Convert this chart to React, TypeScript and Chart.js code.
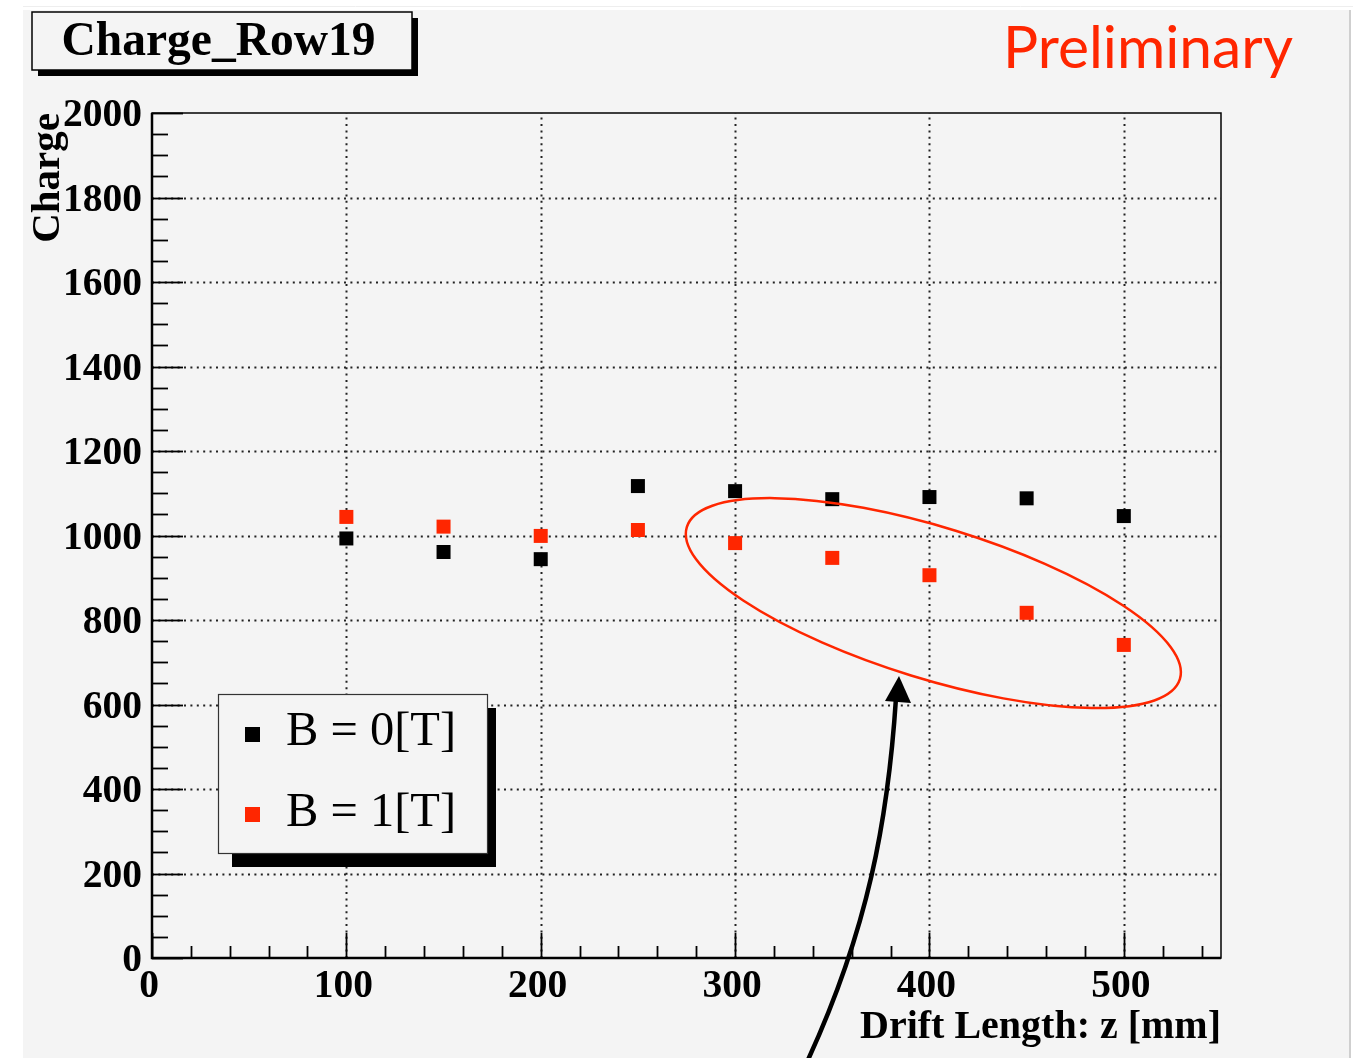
import React, { useEffect, useRef } from 'react';
import { Chart, registerables } from 'chart.js';

Chart.register(...registerables);

// ---- data ----
const driftLengths = [100, 150, 200, 250, 300, 350, 400, 450, 500];
const chargeB0 = [993, 961, 944, 1117, 1105, 1086, 1091, 1088, 1046];
const chargeB1 = [1044, 1021, 999, 1013, 982, 947, 906, 817, 741];
const seriesLabels = ['B = 0[T]', 'B = 1[T]'];
const seriesColors = ['#000000', '#ff2600'];
const xTicks = [0, 100, 200, 300, 400, 500];
const yTicks = [0, 200, 400, 600, 800, 1000, 1200, 1400, 1600, 1800, 2000];
const chartTitle = 'Charge_Row19';
const xTitle = 'Drift Length: z [mm]';
const yTitle = 'Charge';
const stampText = 'Preliminary';

const W = 1353;
const H = 1058;
const SERIF = '"Liberation Serif", "Times New Roman", serif';
const PANEL = '#f4f4f4';
const RED = '#ff2600';
const PAD_LEFT = 24;

const decorPlugin = {
  id: 'decor',
  beforeDraw(chart: any) {
    const ctx = chart.ctx;
    ctx.save();
    ctx.fillStyle = '#ffffff';
    ctx.fillRect(0, 0, W, H);
    ctx.fillStyle = PANEL;
    ctx.fillRect(23, 10, 1327, H - 10);
    ctx.strokeStyle = '#cfcfcf';
    ctx.lineWidth = 2;
    ctx.beginPath();
    ctx.moveTo(1350, 10);
    ctx.lineTo(1350, H);
    ctx.stroke();
    ctx.strokeStyle = '#eeeeee';
    ctx.lineWidth = 1;
    ctx.beginPath();
    ctx.moveTo(23, 6.5);
    ctx.lineTo(W, 6.5);
    ctx.stroke();
    ctx.restore();
  },
  beforeDatasetsDraw(chart: any) {
    const ctx = chart.ctx;
    const { left, right, top, bottom } = chart.chartArea;
    const xs = chart.scales.x;
    const ys = chart.scales.y;
    ctx.save();
    // dotted grid
    ctx.strokeStyle = '#222';
    ctx.lineWidth = 2;
    ctx.setLineDash([2, 4.4]);
    xTicks.forEach((v) => {
      if (v === xs.min) return;
      const px = Math.round(xs.getPixelForValue(v)) + 0.5;
      ctx.beginPath();
      ctx.moveTo(px, bottom);
      ctx.lineTo(px, top);
      ctx.stroke();
    });
    yTicks.forEach((v) => {
      if (v === ys.min || v === ys.max) return;
      const py = Math.round(ys.getPixelForValue(v)) + 0.5;
      ctx.beginPath();
      ctx.moveTo(left, py);
      ctx.lineTo(right, py);
      ctx.stroke();
    });
    ctx.setLineDash([]);
    // frame
    ctx.strokeStyle = '#000';
    ctx.lineWidth = 1.5;
    ctx.strokeRect(left, top, right - left, bottom - top);
    ctx.lineWidth = 2.5;
    ctx.beginPath();
    ctx.moveTo(left, top);
    ctx.lineTo(left, bottom);
    ctx.lineTo(right, bottom);
    ctx.stroke();
    // ticks inside
    ctx.lineWidth = 1.8;
    for (let v = xs.min; v <= xs.max + 1e-6; v += 20) {
      const px = Math.round(xs.getPixelForValue(v)) + 0.5;
      const len = v % 100 === 0 ? 25 : 12;
      ctx.beginPath();
      ctx.moveTo(px, bottom);
      ctx.lineTo(px, bottom - len);
      ctx.stroke();
    }
    for (let v = ys.min; v <= ys.max + 1e-6; v += 50) {
      const py = Math.round(ys.getPixelForValue(v)) + 0.5;
      const len = v % 200 === 0 ? 31 : 16;
      ctx.beginPath();
      ctx.moveTo(left, py);
      ctx.lineTo(left + len, py);
      ctx.stroke();
    }
    ctx.restore();
  },
  afterDatasetsDraw(chart: any) {
    const ctx = chart.ctx;
    const xs = chart.scales.x;
    const ys = chart.scales.y;
    ctx.save();
    // ellipse annotation around B=1 drop
    const cx = xs.getPixelForValue(402);
    const cy = ys.getPixelForValue(840);
    ctx.strokeStyle = RED;
    ctx.lineWidth = 2.5;
    ctx.beginPath();
    ctx.ellipse(cx, cy, 258, 75.7, (17.15 * Math.PI) / 180, 0, Math.PI * 2);
    ctx.stroke();

    // arrow
    ctx.strokeStyle = '#000';
    ctx.fillStyle = '#000';
    ctx.lineWidth = 4.5;
    ctx.beginPath();
    ctx.moveTo(807, 1062);
    ctx.bezierCurveTo(868, 930, 888, 820, 896, 698);
    ctx.stroke();
    ctx.beginPath();
    ctx.moveTo(899, 676);
    ctx.lineTo(911, 703);
    ctx.lineTo(885, 701);
    ctx.closePath();
    ctx.fill();

    // legend
    const lx0 = 218, ly0 = 694, lx1 = 487, ly1 = 853;
    ctx.fillStyle = '#000';
    ctx.fillRect(lx0 + 14, ly0 + 14, lx1 - lx0 - 5, ly1 - ly0);
    ctx.fillStyle = PANEL;
    ctx.fillRect(lx0, ly0, lx1 - lx0, ly1 - ly0);
    ctx.strokeStyle = '#333';
    ctx.lineWidth = 1.2;
    ctx.strokeRect(lx0 + 0.5, ly0 + 0.5, lx1 - lx0, ly1 - ly0);
    const rows = [
      { my: 734, by: 745 },
      { my: 814, by: 826 },
    ];
    chart.data.datasets.forEach((ds: any, i: number) => {
      const r = rows[i];
      ctx.fillStyle = ds.backgroundColor;
      ctx.fillRect(245, r.my - 7, 15, 15);
      ctx.fillStyle = '#000';
      ctx.font = `48.5px ${SERIF}`;
      ctx.textAlign = 'left';
      ctx.textBaseline = 'alphabetic';
      ctx.fillText(ds.label, 286, r.by);
    });

    // title box
    const tx0 = 32, ty0 = 12, tx1 = 412, ty1 = 70;
    ctx.fillStyle = '#000';
    ctx.fillRect(tx0 + 6, ty0 + 6, tx1 - tx0, ty1 - ty0);
    ctx.fillStyle = PANEL;
    ctx.fillRect(tx0, ty0, tx1 - tx0, ty1 - ty0);
    ctx.strokeStyle = '#000';
    ctx.lineWidth = 1.5;
    ctx.strokeRect(tx0, ty0, tx1 - tx0, ty1 - ty0);
    ctx.fillStyle = '#000';
    ctx.font = `bold 47.5px ${SERIF}`;
    ctx.textAlign = 'center';
    ctx.fillText(chartTitle, 218.5, 55);

    // Preliminary stamp
    ctx.font = `100px Lato, "Open Sans", sans-serif`;
    const w100 = ctx.measureText(stampText).width;
    const fs = (100 * 290) / w100;
    ctx.font = `${fs}px Lato, "Open Sans", sans-serif`;
    ctx.fillStyle = RED;
    ctx.textAlign = 'left';
    ctx.fillText(stampText, 1003, 68);
    ctx.restore();
  },
};

export default function App() {
  const canvasRef = useRef<HTMLCanvasElement | null>(null);

  useEffect(() => {
    const canvas = canvasRef.current;
    if (!canvas) return;
    const tickFont = { family: SERIF, weight: 'bold' as const, size: 39.5 };
    const chart = new Chart(canvas, {
      type: 'scatter',
      data: {
        datasets: [
          {
            label: seriesLabels[0],
            data: driftLengths.map((x, i) => ({ x, y: chargeB0[i] })),
            backgroundColor: seriesColors[0],
            borderWidth: 0,
            pointStyle: 'rect',
            pointRadius: 9.9,
            pointHoverRadius: 9.9,
          },
          {
            label: seriesLabels[1],
            data: driftLengths.map((x, i) => ({ x, y: chargeB1[i] })),
            backgroundColor: seriesColors[1],
            borderWidth: 0,
            pointStyle: 'rect',
            pointRadius: 9.9,
            pointHoverRadius: 9.9,
          },
        ],
      },
      options: {
        responsive: false,
        animation: false,
        devicePixelRatio: 1,
        layout: { padding: { left: PAD_LEFT, right: 132, top: 113, bottom: 0 } },
        plugins: {
          legend: { display: false },
          title: { display: false },
          tooltip: { enabled: false },
        },
        events: [],
        scales: {
          x: {
            type: 'linear',
            min: 0,
            max: 550,
            grid: { display: false, drawTicks: false },
            border: { display: false },
            afterBuildTicks: (axis: any) => {
              axis.ticks = xTicks.map((v) => ({ value: v }));
            },
            afterFit: (axis: any) => {
              axis.height = 100;
            },
            ticks: {
              font: tickFont,
              color: '#000',
              padding: 5,
              labelOffset: -3,
              maxRotation: 0,
              autoSkip: false,
              callback: (v: any) => String(v),
            },
            title: {
              display: true,
              text: xTitle,
              align: 'end',
              color: '#000',
              font: { family: SERIF, weight: 'bold', size: 40 },
              padding: { top: 0, bottom: 6 },
            },
          },
          y: {
            type: 'linear',
            min: 0,
            max: 2000,
            grid: { display: false, drawTicks: false },
            border: { display: false },
            afterBuildTicks: (axis: any) => {
              axis.ticks = yTicks.map((v) => ({ value: v }));
            },
            afterFit: (axis: any) => {
              axis.width = 152 - PAD_LEFT;
            },
            ticks: {
              font: tickFont,
              color: '#000',
              padding: 10,
              labelOffset: 3,
              autoSkip: false,
              callback: (v: any) => String(v),
            },
            title: {
              display: true,
              text: yTitle,
              align: 'end',
              color: '#000',
              font: { family: SERIF, weight: 'bold', size: 41 },
              padding: { top: 0, bottom: 0 },
            },
          },
        },
      },
      plugins: [decorPlugin],
    });
    return () => chart.destroy();
  }, []);

  return (
    <div style={{ position: 'absolute', left: 0, top: 0, width: W, height: H }}>
      <canvas ref={canvasRef} width={W} height={H} style={{ display: 'block', width: W, height: H }} />
    </div>
  );
}
